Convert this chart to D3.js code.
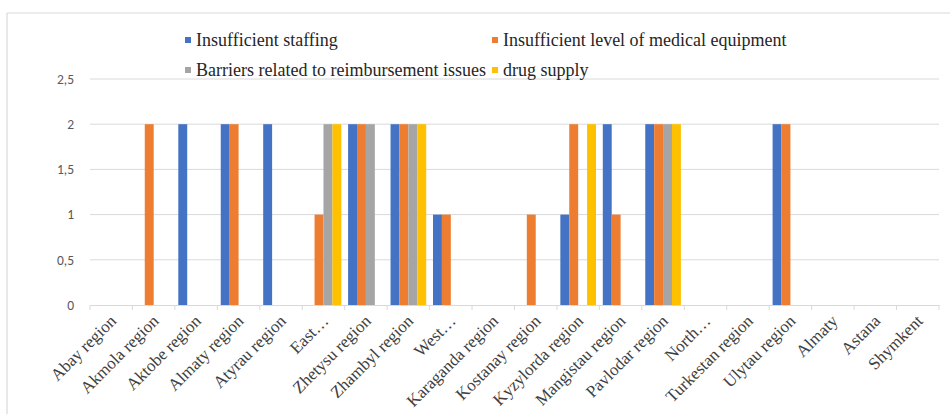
<!DOCTYPE html>
<html>
<head>
<meta charset="utf-8">
<script src="https://cdn.jsdelivr.net/npm/d3@7/dist/d3.min.js"></script>
<style>
  html, body { margin: 0; padding: 0; background: #fff; }
  svg { display: block; }
</style>
</head>
<body>
<svg id="chart" width="950" height="414"></svg>
<script>
// Regions along the x axis
const regions = [
  "Abay region", "Akmola region", "Aktobe region", "Almaty region", "Atyrau region",
  "East…", "Zhetysu region", "Zhambyl region", "West…", "Karaganda region",
  "Kostanay region", "Kyzylorda region", "Mangistau region", "Pavlodar region", "North…",
  "Turkestan region", "Ulytau region", "Almaty", "Astana", "Shymkent"
];

// Series names (legend order)
const seriesNames = [
  "Insufficient staffing",
  "Insufficient level of medical equipment",
  "Barriers related to reimbursement issues",
  "drug supply"
];

// Values per region, one array per series
const staffing      = [0, 0, 2, 2, 2, 0, 2, 2, 1, 0, 0, 1, 2, 2, 0, 0, 2, 0, 0, 0];
const equipment     = [0, 2, 0, 2, 0, 1, 2, 2, 1, 0, 1, 2, 1, 2, 0, 0, 2, 0, 0, 0];
const reimbursement = [0, 0, 0, 0, 0, 2, 2, 2, 0, 0, 0, 0, 0, 2, 0, 0, 0, 0, 0, 0];
const drugSupply    = [0, 0, 0, 0, 0, 2, 0, 2, 0, 0, 0, 2, 0, 2, 0, 0, 0, 0, 0, 0];

const yTicks = [0, 0.5, 1, 1.5, 2, 2.5];

const seriesValues = [staffing, equipment, reimbursement, drugSupply];
const colors = ["#4472C4", "#ED7D31", "#A5A5A5", "#FFC000"];
const serif = "'Liberation Serif', 'Times New Roman', Times, serif";

const svg = d3.select("#chart");
const W = 950, H = 414;
const margin = { left: 90, right: 11, top: 79, bottom: 109 };
const plotW = W - margin.left - margin.right;
const plotH = H - margin.top - margin.bottom;

// Chart frame (top and left edges)
svg.append("line").attr("x1", 7).attr("x2", W).attr("y1", 13).attr("y2", 13)
  .attr("stroke", "#d9d9d9").attr("stroke-width", 1.2);
svg.append("line").attr("x1", 7).attr("x2", 7).attr("y1", 13).attr("y2", H)
  .attr("stroke", "#d9d9d9").attr("stroke-width", 1.2);

const g = svg.append("g").attr("transform", `translate(${margin.left},${margin.top})`);

const x0 = d3.scaleBand().domain(regions).range([0, plotW])
  .paddingInner(0.16).paddingOuter(0.08);
const x1 = d3.scaleBand().domain(d3.range(seriesNames.length)).range([0, x0.bandwidth()]);
const y = d3.scaleLinear().domain([0, 2.5]).range([plotH, 0]);

// Horizontal gridlines
g.append("g").selectAll("line").data(yTicks.filter(t => t > 0)).join("line")
  .attr("x1", 0).attr("x2", plotW)
  .attr("y1", d => y(d)).attr("y2", d => y(d))
  .attr("stroke", "#d9d9d9").attr("stroke-width", 1);

// Y axis labels
const fmt = d => String(d).replace(".", ",");
g.append("g").selectAll("text").data(yTicks).join("text")
  .attr("x", -16).attr("y", d => y(d)).attr("dy", "0.35em")
  .attr("text-anchor", "end")
  .attr("font-family", "Carlito, 'Open Sans', sans-serif")
  .attr("font-size", 13.5).attr("fill", "#595959")
  .text(fmt);

// Bars
const groups = g.append("g").selectAll("g").data(regions).join("g")
  .attr("transform", d => `translate(${x0(d)},0)`);
groups.selectAll("rect")
  .data((d, i) => seriesValues.map((vals, s) => ({ s, v: vals[i] })).filter(e => e.v > 0))
  .join("rect")
  .attr("x", d => x1(d.s))
  .attr("width", x1.bandwidth())
  .attr("y", d => y(d.v))
  .attr("height", d => y(0) - y(d.v))
  .attr("fill", d => colors[d.s]);

// X axis line with category boundary ticks
const xAxis = d3.axisBottom(x0).tickSize(0).tickFormat("");
const ax = g.append("g").attr("transform", `translate(0,${plotH})`).call(xAxis);
ax.select(".domain").attr("stroke", "#d9d9d9");
const step = x0.step();
g.append("g").selectAll("line").data(d3.range(regions.length + 1)).join("line")
  .attr("x1", i => i * step).attr("x2", i => i * step)
  .attr("y1", plotH).attr("y2", plotH + 5)
  .attr("stroke", "#d9d9d9");

// Rotated category labels
g.append("g").selectAll("text").data(regions).join("text")
  .attr("transform", d => `translate(${x0(d) + x0.bandwidth() / 2 + 6},${plotH + 17}) rotate(-45)`)
  .attr("text-anchor", "end")
  .attr("font-family", serif)
  .attr("font-size", 17).attr("fill", "#404040")
  .text(d => d);

// Legend in two rows
const legendPos = [
  { x: 185, y: 40 }, { x: 492, y: 40 },
  { x: 185, y: 70 }, { x: 492, y: 70 }
];
const legend = svg.append("g").selectAll("g").data(seriesNames).join("g")
  .attr("transform", (d, i) => `translate(${legendPos[i].x},${legendPos[i].y})`);
legend.append("rect").attr("x", 0).attr("y", -3).attr("width", 6).attr("height", 6)
  .attr("fill", (d, i) => colors[i]);
legend.append("text").attr("x", 11).attr("y", 0).attr("dy", "0.35em")
  .attr("font-family", serif)
  .attr("font-size", 18).attr("fill", "#262626")
  .text(d => d);
</script>
</body>
</html>
